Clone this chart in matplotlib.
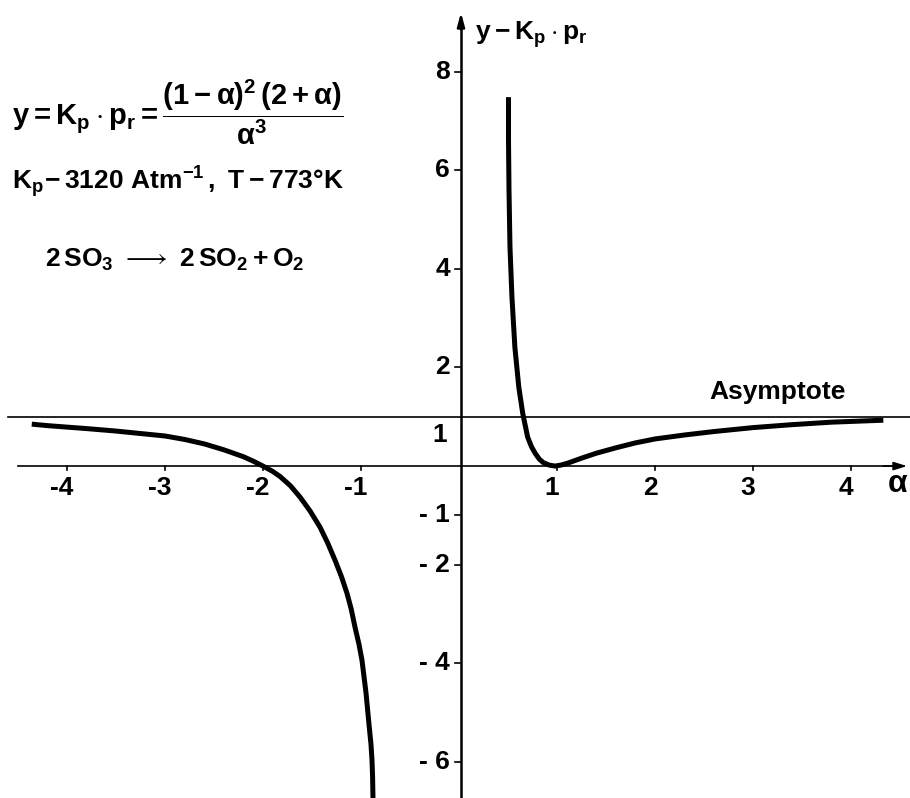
import matplotlib
matplotlib.use("Agg")
import matplotlib.pyplot as plt

plt.rcParams['font.family'] = ['Liberation Sans', 'DejaVu Sans']
plt.rcParams['mathtext.fontset'] = 'custom'
plt.rcParams['mathtext.rm'] = 'Liberation Sans:bold'
plt.rcParams['mathtext.it'] = 'Liberation Sans:bold'
plt.rcParams['mathtext.bf'] = 'Liberation Sans:bold'

# Data
left_alpha = [-4.36, -4.2, -4.0, -3.8, -3.5, -3.3, -3.0, -2.8, -2.6, -2.4, -2.2,
              -2.1, -2.0, -1.9, -1.827, -1.72, -1.622, -1.52, -1.418, -1.34,
              -1.265, -1.2, -1.143, -1.1, -1.061, -1.02, -0.99,
              -0.949, -0.918, -0.898, -0.888, -0.882, -0.878]
left_y = [0.85, 0.82, 0.79, 0.76, 0.71, 0.67, 0.61, 0.54, 0.45, 0.33, 0.19,
          0.10, 0.0, -0.11, -0.21, -0.40, -0.63, -0.91, -1.24, -1.56,
          -1.91, -2.24, -2.58, -2.9, -3.27, -3.62, -3.94,
          -4.6, -5.25, -5.65, -5.96, -6.3, -6.73]
right_alpha = [0.505, 0.505, 0.51, 0.52, 0.54, 0.57, 0.61, 0.65, 0.70, 0.74, 0.78,
               0.82, 0.86, 0.92, 0.98, 1.04, 1.11, 1.25, 1.4, 1.6, 1.8, 2.0,
               2.3, 2.6, 3.0, 3.4, 3.8, 4.33]
right_y = [7.48, 6.6, 5.6, 4.44, 3.43, 2.41, 1.6, 1.07, 0.59, 0.39, 0.25,
           0.14, 0.07, 0.02, 0.0, 0.02, 0.06, 0.16, 0.26, 0.37, 0.47, 0.55,
           0.63, 0.70, 0.78, 0.84, 0.89, 0.93]
asymptote_y = 1.0
x_ticks = [-4, -3, -2, -1, 1, 2, 3, 4]
y_ticks = [8, 6, 4, 2, -1, -2, -4, -6]

fig = plt.figure(figsize=(9.1, 7.98), dpi=100)
ax = fig.add_axes([0, 0, 1, 1])
ax.set_xlim(-4.684, 4.602)
ax.set_ylim(-6.73, 9.45)
ax.axis('off')

fs = 19
# axes
ax.plot([-4.5, 4.5], [0, 0], color='black', lw=1.2)
ax.annotate('', xy=(4.6, 0), xytext=(4.3, 0),
            arrowprops=dict(arrowstyle='-|>,head_length=0.8,head_width=0.25', color='black', lw=1.2))
ax.plot([0.02, 0.02], [-6.73, 9.0], color='black', lw=1.8)
ax.annotate('', xy=(0.02, 9.25), xytext=(0.02, 8.8),
            arrowprops=dict(arrowstyle='-|>,head_length=0.8,head_width=0.22', color='black', lw=1.8))
# asymptote
ax.plot([-4.6, 4.602], [asymptote_y, asymptote_y], color='black', lw=1.2)

# ticks
for t in x_ticks:
    ax.plot([t, t], [0, -0.08], color='black', lw=1.2)
    ax.text(t - 0.05, -0.44, str(t) if t > 0 else '-' + str(-t), ha='center', va='center',
            fontsize=fs, fontweight='bold')
for t in y_ticks:
    ax.plot([-0.04, 0.02], [t, t], color='black', lw=1.2)
    lab = str(t) if t > 0 else '- ' + str(-t)
    ax.text(-0.09, t, lab, ha='right', va='center', fontsize=fs, fontweight='bold')
ax.text(-0.2, 0.62, '1', ha='center', va='center', fontsize=fs, fontweight='bold')

# curves
ax.plot(left_alpha, left_y, color='black', lw=3.6, solid_capstyle='butt', solid_joinstyle='round')
ax.plot(right_alpha, right_y, color='black', lw=3.6, solid_capstyle='butt', solid_joinstyle='round')

# texts
ax.text(0.16, 8.74, r'$\mathrm{y - K_p \cdot p_r}$', ha='left', va='center', fontsize=19)
ax.text(4.585, -0.36, r'$\alpha$', ha='right', va='center', fontsize=23)
ax.text(3.25, 1.5, 'Asymptote', ha='center', va='center', fontsize=19, fontweight='bold')

ax.text(-4.56, 7.18, r'$\mathrm{y = K_p \cdot p_r = \dfrac{(1-\alpha)^2\,(2+\alpha)}{\alpha^3}}$',
        ha='left', va='center', fontsize=21)
ax.text(-4.56, 5.76, r'$\mathrm{K_p\!-3120\ Atm^{-1}\,,\ T-773°K}$',
        ha='left', va='center', fontsize=19)
ax.text(-4.22, 4.18, r'$\mathrm{2\,SO_3\ \longrightarrow\ 2\,SO_2 + O_2}$',
        ha='left', va='center', fontsize=19)

fig.savefig('out.png', dpi=100)
